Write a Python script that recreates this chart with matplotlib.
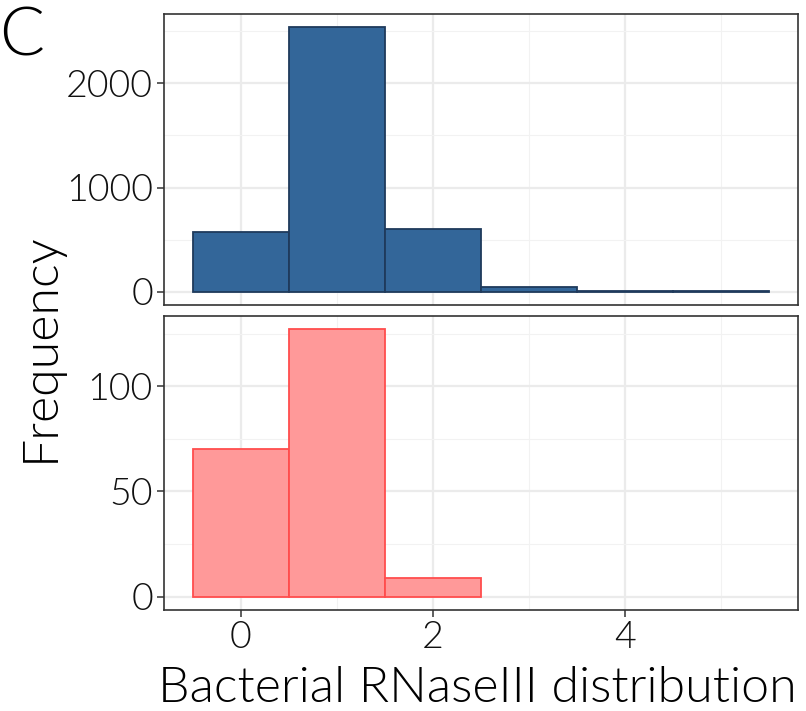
import matplotlib
matplotlib.use("Agg")
import matplotlib.pyplot as plt
import numpy as np

plt.rcParams['font.family'] = ['Lato', 'DejaVu Sans']
plt.rcParams['font.weight'] = 300

bins = [0, 1, 2, 3, 4, 5]
top_counts = [575, 2538, 604, 47, 10, 6]
bottom_counts = [70, 127, 9, 0, 0, 0]
top_yticks = [0, 1000, 2000]
bottom_yticks = [0, 50, 100]
xticks = [0, 2, 4]

W, H = 806, 711
fig = plt.figure(figsize=(W/100, H/100), dpi=100)

def ax_at(l, t, r, b):
    return fig.add_axes([l/W, 1-b/H, (r-l)/W, (b-t)/H])

ax1 = ax_at(164, 14, 798, 305)
ax2 = ax_at(164, 316, 798, 610)

def style(ax, counts, yticks, minor, fill, edge, show_x):
    xs = [b for b, c in zip(bins, counts) if c > 0]
    ys = [c for c in counts if c > 0]
    ax.bar(xs, ys, width=1.0, color=fill, edgecolor=edge, linewidth=1.3, zorder=3)
    mx = max(counts)
    ax.set_ylim(-0.05*mx, 1.05*mx)
    ax.set_xlim(-0.8, 5.8)
    ax.set_yticks(yticks)
    ax.set_yticks(minor, minor=True)
    ax.set_xticks(xticks)
    ax.set_xticks([1, 3, 5], minor=True)
    ax.grid(which='major', color='#EBEBEB', linewidth=1.6, zorder=0)
    ax.grid(which='minor', color='#F2F2F2', linewidth=0.8, zorder=0)
    for s in ax.spines.values():
        s.set_color('#333333')
        s.set_linewidth(1.2)
    ax.tick_params(which='major', length=5, width=1.1, color='#333333', labelsize=27, labelcolor='#111111', pad=3)
    ax.tick_params(which='minor', length=0)
    if not show_x:
        ax.tick_params(axis='x', which='both', length=0, labelbottom=False)
    ax.set_axisbelow(True)

style(ax1, top_counts, top_yticks, [500, 1500, 2500], '#336699', '#1F3A5C', False)
style(ax2, bottom_counts, bottom_yticks, [25, 75, 125], '#FF9999', '#FF4D4D', True)

fig.text(40/W, 1-347/H, 'Frequency', rotation=90, ha='center', va='center', fontsize=36, color='black')
fig.text(477/W, 1-688/H, 'Bacterial RNaseIII distribution', ha='center', va='center', fontsize=36, color='black')
fig.text(22/W, 1-38/H, 'C', ha='center', va='center', fontsize=48, color='black')

fig.savefig('out.png', dpi=100)
